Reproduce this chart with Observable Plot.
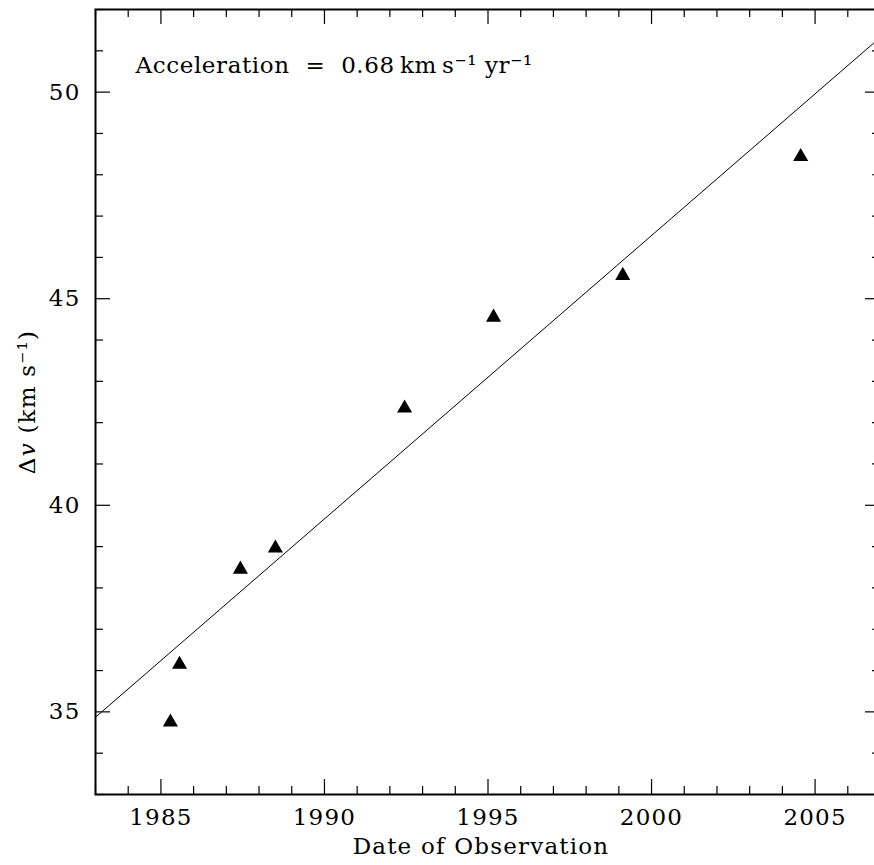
<!DOCTYPE html>
<html>
<head>
<meta charset="utf-8">
<script src="https://cdn.jsdelivr.net/npm/d3@7"></script>
<script src="https://cdn.jsdelivr.net/npm/@observablehq/plot@0.6"></script>
<style>
  html, body { margin: 0; padding: 0; background: #fff; }
</style>
</head>
<body>
<div id="chart"></div>
<script>
// Observation dates and velocity separations
const obsYear = [1985.29, 1985.57, 1987.43, 1988.50, 1992.45, 1995.17, 1999.12, 2004.56];
const obsDv   = [34.75, 36.15, 38.45, 38.96, 42.35, 44.55, 45.56, 48.44];

// Fitted line endpoints (slope 0.68 km/s/yr)
const fitYear = [1983, 2007];
const fitDv   = [34.87, 51.33];

// Ticks
const xMajor = [1985, 1990, 1995, 2000, 2005];
const xMinor = d3.range(1983, 2008).filter(d => !xMajor.includes(d));
const yMajor = [35, 40, 45, 50];
const yMinor = d3.range(33, 53).filter(d => !yMajor.includes(d));

const annotation = "Acceleration\u00a0 =\u00a0 0.68\u2009km\u2009s\u207b\u00b9 yr\u207b\u00b9";
const xLabel = "Date of Observation";

const W = 874, H = 865;
const mT = 9, mB = 71, mL = 95, mR = -6;
const ph = H - mT - mB;
const pw = W - mL - mR;
const majLen = 15, minLen = 8;
const FS = 23;

const points = obsYear.map((x, i) => ({x, y: obsDv[i]}));
const fit = fitYear.map((x, i) => ({x, y: fitDv[i]}));

const plot = Plot.plot({
  width: W, height: H,
  marginTop: mT, marginBottom: mB, marginLeft: mL, marginRight: mR,
  style: {fontFamily: "'DejaVu Serif', serif", fontSize: FS + "px", background: "#fff", color: "#000"},
  x: {domain: [1983, 2007]},
  y: {domain: [33, 52]},
  marks: [
    // ticks bottom
    Plot.tickX(xMajor, {x: d => d, insetTop: ph - majLen, stroke: "#000", strokeWidth: 1.2}),
    Plot.tickX(xMinor, {x: d => d, insetTop: ph - minLen, stroke: "#000", strokeWidth: 1.2}),
    // ticks top
    Plot.tickX(xMajor, {x: d => d, insetBottom: ph - majLen, stroke: "#000", strokeWidth: 1.2}),
    Plot.tickX(xMinor, {x: d => d, insetBottom: ph - minLen, stroke: "#000", strokeWidth: 1.2}),
    // ticks left
    Plot.tickY(yMajor, {y: d => d, insetRight: pw - majLen, stroke: "#000", strokeWidth: 1.2}),
    Plot.tickY(yMinor, {y: d => d, insetRight: pw - minLen, stroke: "#000", strokeWidth: 1.2}),
    // ticks right
    Plot.tickY(yMajor, {y: d => d, insetLeft: pw - majLen, stroke: "#000", strokeWidth: 1.2}),
    Plot.tickY(yMinor, {y: d => d, insetLeft: pw - minLen, stroke: "#000", strokeWidth: 1.2}),
    Plot.axisX({ticks: xMajor, tickSize: 0, tickPadding: 14, tickFormat: d => String(d), label: null, fontSize: FS}),
    Plot.axisY({ticks: yMajor, tickSize: 0, tickPadding: 15, tickFormat: d => String(d), label: null, fontSize: FS}),
    Plot.line(fit, {x: "x", y: "y", stroke: "#000", strokeWidth: 1, clip: true}),
    Plot.dot(points, {x: "x", y: "y", symbol: "triangle", r: 5.6, fill: "#000", stroke: null}),
    Plot.text([annotation], {text: d => d, frameAnchor: "top-left", dx: 40, dy: 56, textAnchor: "start", lineAnchor: "middle", fontSize: FS, className: "annot"}),
    Plot.text([xLabel], {text: d => d, frameAnchor: "bottom", dx: -7, dy: 52, lineAnchor: "middle", fontSize: FS}),
    Plot.text(["ylabel"], {text: d => d, frameAnchor: "left", dx: -68, rotate: -90, textAnchor: "middle", lineAnchor: "middle", fontSize: FS, className: "ylab"}),
    Plot.frame({stroke: "#000", strokeWidth: 2})
  ]
});

// Rich text for the y label: Δ italic-v (km s⁻¹)
d3.select(plot).selectAll(".ylab text").each(function() {
  const t = d3.select(this);
  t.text(null);
  t.append("tspan").text("\u0394");
  t.append("tspan").attr("font-style", "italic").text("v");
  t.append("tspan").text("\u00a0(km\u00a0s\u207b\u00b9)");
});

d3.select(plot).selectAll("text").style("letter-spacing", "1.2px");
d3.select(plot).selectAll(".annot text").style("letter-spacing", "0.6px");

document.getElementById("chart").appendChild(plot);
</script>
</body>
</html>
